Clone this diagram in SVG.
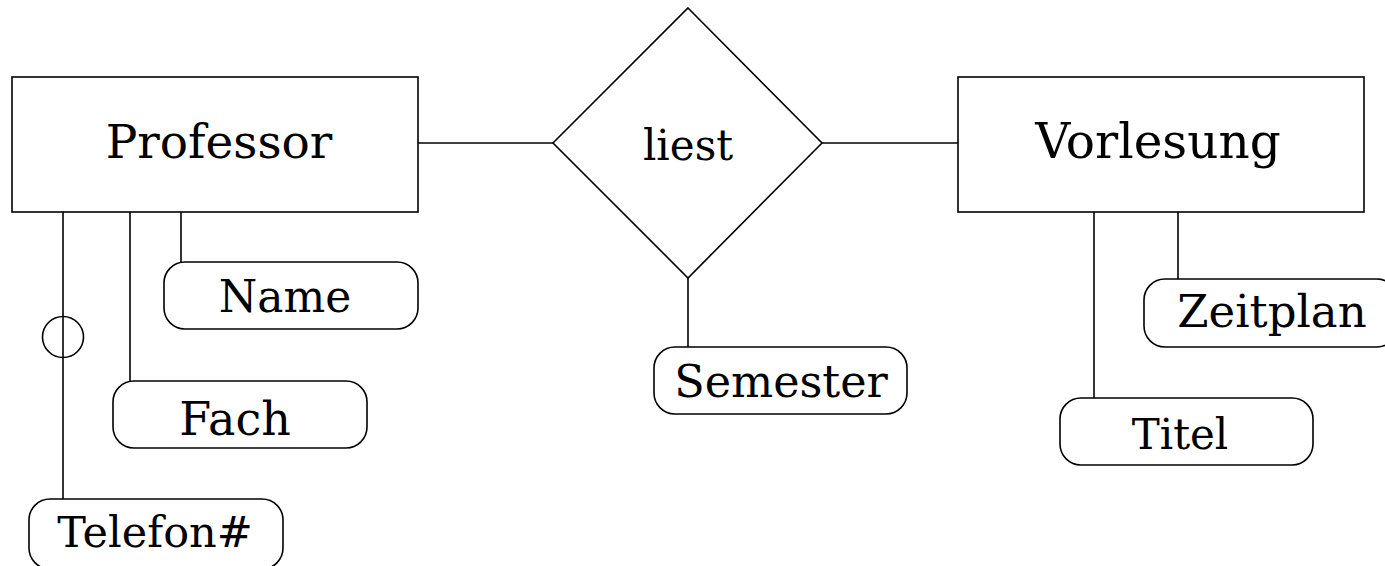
<svg xmlns="http://www.w3.org/2000/svg" width="1385" height="566" viewBox="0 0 1385 566">
<style>
.s{fill:#fff;stroke:#000;stroke-width:1.6}
.c{fill:none;stroke:#000;stroke-width:1.6}
text{font-family:"DejaVu Serif","Liberation Serif",serif;font-size:46px;fill:#000;text-anchor:middle}
.e{font-size:47px}
.r{font-size:42px}
</style>
<rect width="1385" height="566" fill="#fff"/>
<g id="connectors">
<line class="c" x1="418" y1="143" x2="553" y2="143"/>
<line class="c" x1="822" y1="143" x2="958" y2="143"/>
<line class="c" x1="688" y1="278" x2="688" y2="347"/>
<line class="c" x1="181" y1="212" x2="181" y2="262"/>
<line class="c" x1="130" y1="212" x2="130" y2="381"/>
<line class="c" x1="63" y1="212" x2="63" y2="499"/>
<circle class="c" cx="63" cy="337" r="20.5"/>
<line class="c" x1="1094" y1="212" x2="1094" y2="398"/>
<line class="c" x1="1178" y1="212" x2="1178" y2="279"/>
</g>
<g id="professor">
<rect class="s" x="12" y="77" width="406" height="135"/>
<text class="e" x="219" y="158">Professor</text>
</g>
<g id="liest">
<polygon class="s" points="688,8 822,143 688,278 553,143"/>
<text class="r" x="688" y="160">liest</text>
</g>
<g id="vorlesung">
<rect class="s" x="958" y="77" width="406" height="135"/>
<text class="e" x="1158" y="158" style="font-size:48.5px">Vorlesung</text>
</g>
<g id="name">
<rect class="s" x="164" y="262" width="254" height="67" rx="21"/>
<text x="285" y="312" style="font-size:44px">Name</text>
</g>
<g id="fach">
<rect class="s" x="113" y="381" width="254" height="67" rx="21"/>
<text x="235" y="435">Fach</text>
</g>
<g id="telefon">
<rect class="s" x="29" y="499" width="254" height="70" rx="21"/>
<text x="155" y="547" style="font-size:43px">Telefon#</text>
</g>
<g id="semester">
<rect class="s" x="654" y="347" width="253" height="67" rx="21"/>
<text x="781" y="397" style="font-size:44.5px">Semester</text>
</g>
<g id="zeitplan">
<rect class="s" x="1144" y="279" width="254" height="68" rx="21"/>
<text x="1272" y="327" style="font-size:45px">Zeitplan</text>
</g>
<g id="titel">
<rect class="s" x="1060" y="398" width="253" height="67" rx="21"/>
<text x="1180" y="449" style="font-size:42px">Titel</text>
</g>
</svg>
